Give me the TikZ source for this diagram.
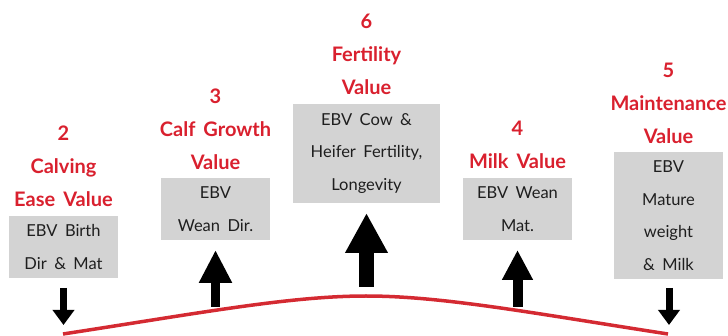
\documentclass[tikz,border=0pt]{standalone}
\usepackage{fontspec}
\setmainfont{Lato}
\usetikzlibrary{arrows.meta}
\definecolor{redtxt}{HTML}{D9202E}
\definecolor{redline}{HTML}{D42A32}
\definecolor{boxgray}{HTML}{D3D3D3}
\definecolor{boxtxt}{HTML}{1E1E1E}
\newcommand{\boxfont}{\fontsize{16.5}{32.5}\selectfont\spaceskip=0.45em plus 0.1em\relax}
\newcommand{\labfont}{\fontsize{20}{33}\selectfont\bfseries\spaceskip=0.4em\relax}
\tikzset{
  valbox/.style={fill=boxgray, inner sep=0pt, align=center, text=boxtxt, font=\boxfont},
  vallabel/.style={text=redtxt, align=center, inner sep=0pt, font=\labfont},
  bigarrow/.style={draw=black, line width=#1},
}
\begin{document}
\begin{tikzpicture}[x=1pt,y=-1pt]
\useasboundingbox (0,0) rectangle (728,336);
% boxes
\node[valbox, minimum width=109pt, minimum height=62pt] (b1) at (63.5,247) {EBV Birth\\Dir \& Mat};
\node[valbox, minimum width=109pt, minimum height=62pt] (b2) at (215.5,209) {EBV\\Wean Dir.};
\node[valbox, minimum width=147pt, minimum height=99pt] (b3) at (366.5,153.5) {EBV Cow \&\\Heifer Fertility,\\Longevity};
\node[valbox, minimum width=109pt, minimum height=62pt] (b4) at (517.5,209) {EBV Wean\\Mat.};
\node[valbox, minimum width=109pt, minimum height=127pt] (b5) at (668.5,215.5) {EBV\\Mature\\weight\\\& Milk};
% labels
\node[vallabel] (l1) at (63.5,166) {2\\Calving\\Ease Value};
\node[vallabel] (l2) at (215.5,129.5) {3\\Calf Growth\\Value};
\node[vallabel] (l3) at (366.5,54.5) {6\\Fertility\\Value};
\node[vallabel] (l4) at (517.5,145) {4\\Milk Value};
\node[vallabel] (l5) at (668.5,103.5) {5\\Maintenance\\Value};
% curve
\coordinate (cL) at (63,334);
\coordinate (cP) at (366,296);
\coordinate (cR) at (668,334);
\draw[redline, line width=3.5pt] (cL) .. controls (200,313) and (290,296) .. (cP) .. controls (442,296) and (532,313) .. (cR);
% arrows
\coordinate (a1s) at (63.5,288); \coordinate (a1e) at (63.5,325);
\coordinate (a2s) at (215.5,307); \coordinate (a2e) at (215.5,250);
\coordinate (a3s) at (366.5,287); \coordinate (a3e) at (366.5,213);
\coordinate (a4s) at (517.5,307); \coordinate (a4e) at (517.5,250);
\coordinate (a5s) at (669,288); \coordinate (a5e) at (669,325);
\draw[bigarrow=7pt, -{Triangle[width=21pt,length=15pt]}] (a1s) -- (a1e);
\draw[bigarrow=9pt, -{Triangle[width=31pt,length=33pt]}] (a2s) -- (a2e);
\draw[bigarrow=15pt, -{Triangle[width=40pt,length=40pt]}] (a3s) -- (a3e);
\draw[bigarrow=10pt, -{Triangle[width=29pt,length=30pt]}] (a4s) -- (a4e);
\draw[bigarrow=7pt, -{Triangle[width=21pt,length=15pt]}] (a5s) -- (a5e);
\end{tikzpicture}
\end{document}
